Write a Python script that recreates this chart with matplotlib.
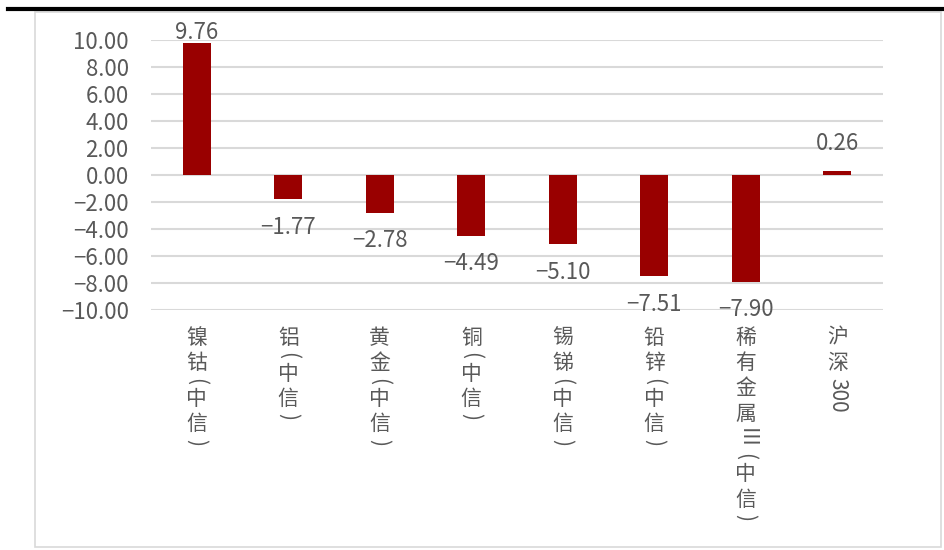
import numpy as np
import matplotlib.pyplot as plt
from matplotlib.lines import Line2D
from matplotlib.patches import Rectangle

plt.rcParams['font.family'] = ['Noto Sans CJK SC', 'DejaVu Sans']

# weekly change by sector (%)
categories = ["镍钴（中信）", "铝（中信）", "黄金（中信）", "铜（中信）",
              "锡锑（中信）", "铅锌（中信）", "稀有金属Ⅲ（中信）", "沪深300"]
values = [9.76, -1.77, -2.78, -4.49, -5.10, -7.51, -7.90, 0.26]
yticks = np.arange(-10, 10.1, 2)

BAR = "#990000"
TXT = "#595959"
GRID = "#d9d9d9"
FS = 15
NUM_FS = 16
# brackets and latin runs are turned sideways in vertical writing
SIDEWAYS = {"（": "(", "）": ")"}


def split_label(s):
    """Split a label into (text, rotated) runs for top-to-bottom writing."""
    runs = []
    for ch in s:
        rot = ch.isascii() or ch in SIDEWAYS or ch == "Ⅲ"
        ch = SIDEWAYS.get(ch, ch)
        if runs and runs[-1][1] == rot and ch not in "()":
            if runs[-1][0] not in "()":
                sep = "" if rot else "\n"
                runs[-1] = (runs[-1][0] + sep + ch, rot)
                continue
        runs.append((ch, rot))
    return runs


fig = plt.figure(figsize=(9.44, 5.5), dpi=100)
ax = fig.add_axes([0.16, 0.4364, 0.7754, 0.4909])

x = np.arange(len(categories))
ax.bar(x, values, width=0.31, color=BAR, zorder=3)

ax.set_xlim(-0.5, len(categories) - 0.5)
ax.set_ylim(-10, 10)
ax.set_yticks(yticks)
ax.set_yticklabels([f"{t:.2f}".replace("-", "−") for t in yticks])
ax.tick_params(axis="y", length=0, pad=16, labelsize=NUM_FS, labelcolor=TXT)
ax.set_xticks([])
for t in yticks:
    ax.axhline(t, color=GRID, lw=1.5, zorder=1)
for s in ax.spines.values():
    s.set_visible(False)

# value labels at the bar ends
for xi, v in zip(x, values):
    ly = min(v + 2.1, 10.55) if v >= 0 else v - 2.1
    ax.text(xi, ly, f"{v:.2f}".replace("-", "−"), ha="center", va="center",
            fontsize=NUM_FS, color=TXT, zorder=4, clip_on=False)

# category names written vertically under the axis
renderer = fig.canvas.get_renderer()
for xi, name in zip(x, categories):
    off = 12
    for txt, rot in split_label(name):
        ann = ax.annotate(txt, xy=(xi, 0), xycoords=("data", "axes fraction"),
                          xytext=(0, -off), textcoords="offset points",
                          ha="center", va="top", fontsize=FS, color=TXT,
                          rotation=-90 if rot else 0, linespacing=1.2)
        h = ann.get_window_extent(renderer).height * 72 / fig.dpi
        off += h + 2.5

# outer frame and top rule
fig.add_artist(Rectangle((0.0371, 0.0055), 0.9597, 0.9727, fill=False,
                         edgecolor=GRID, lw=1.2, transform=fig.transFigure))
fig.add_artist(Line2D([0.0085, 1.0], [0.9836, 0.9836], color="black", lw=3,
                      transform=fig.transFigure))

fig.savefig("out.png", dpi=100)
